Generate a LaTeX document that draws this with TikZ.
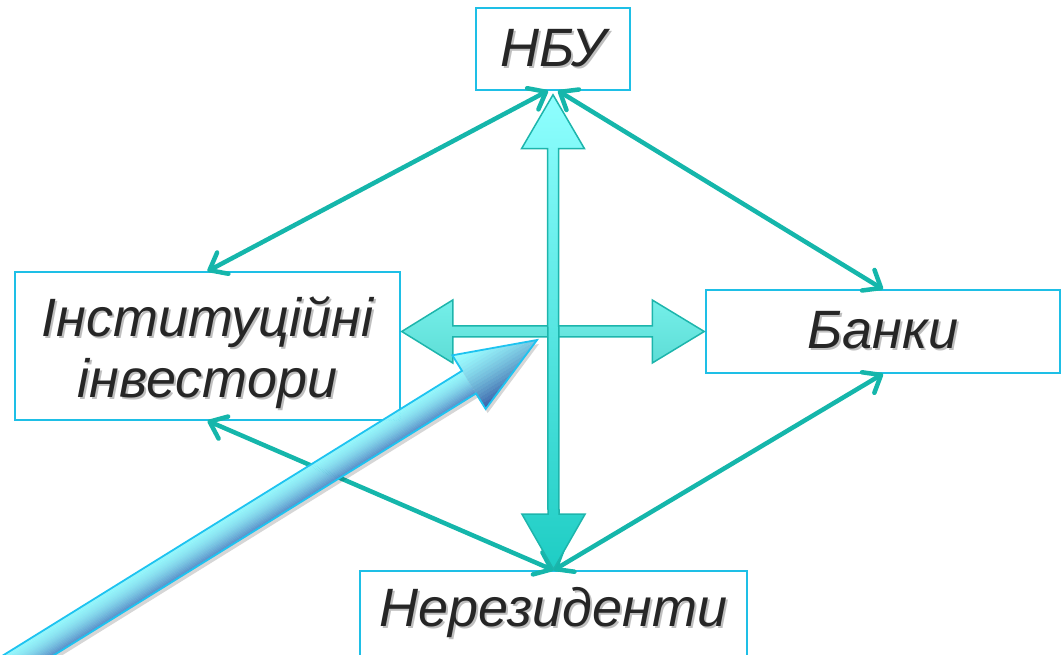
\documentclass[tikz,border=0pt]{standalone}
\usepackage{fontspec}
\setmainfont{Liberation Sans}
\usetikzlibrary{arrows.meta,calc}
\definecolor{boxc}{HTML}{1EBFE6}
\definecolor{thin}{HTML}{15B6AB}
\definecolor{txt}{HTML}{262626}
\definecolor{blkout}{HTML}{1DB5AC}
\definecolor{vtop}{HTML}{8FFFFF}
\definecolor{vbot}{HTML}{1ECDC4}
\definecolor{htop}{HTML}{74EFE9}
\definecolor{hbot}{HTML}{5EDDD6}
\definecolor{dlight}{HTML}{94F6FB}
\definecolor{ddark}{HTML}{5A90CA}
\definecolor{hlight}{HTML}{9CFDFF}
\definecolor{hdark}{HTML}{3A62AA}
\definecolor{dout}{HTML}{1EC3F0}
\newcommand\shd[1]{\leavevmode\rlap{\kern2pt\raisebox{-2pt}{\textcolor{black!25}{#1}}}#1}
\begin{document}
\begin{tikzpicture}[x=1pt,y=1pt,
  box/.style={draw=boxc, line width=1.5pt, fill=white, inner sep=0pt, text=txt,
    font=\fontsize{54}{61}\selectfont\itshape, align=center},
  link/.style={draw=thin, line width=4.5pt, line cap=round,
    {Straight Barb[length=15pt,width=24pt,round]}-{Straight Barb[length=15pt,width=24pt,round]}},
  blk/.style={draw=blkout, line width=1.5pt, line join=miter},
  shadowfill/.style={fill=black, fill opacity=0.18, draw=none},
]
\useasboundingbox (0,0) rectangle (1063,655);
\clip (0,0) rectangle (1063,655);

% boxes
\node[box, minimum width=154, minimum height=82] (nbu) at (553,606) {\shd{НБУ}};
\node[box, minimum width=385, minimum height=148, text height=104pt, text depth=0pt] (inst) at (207.5,309) {\shd{Інституційні}\\\shd{інвестори}};
\node[box, minimum width=354, minimum height=83] (bank) at (883,323.5) {\shd{Банки}};
\node[box, minimum width=387, minimum height=86] (nerez) at (553.5,41) {\shd{Нерезиденти}};

% thin two-way links
\draw[link] ([xshift=-5]nbu.south) -- (inst.north);
\draw[link] ([xshift=5]nbu.south) -- (bank.north);
\draw[link] (inst.south) -- (nerez.north);
\draw[link] (bank.south) -- (nerez.north);

% block arrows
\coordinate (vt) at ([yshift=-4]nbu.south);
\coordinate (vb) at ([yshift=1]nerez.north);
\coordinate (hl) at ([xshift=1]inst.east |- bank.west);
\coordinate (hr) at ([xshift=-1]bank.west);

% horizontal
\path[shadowfill, shift={(2,-3)}] (hl) -- ++(51,31.5) -- ++(0,-26) -- ($(hr)+(-52,5.5)$) -- ++(0,26) -- (hr) -- ++(-52,-31.5) -- ++(0,26) -- ($(hl)+(51,-5.5)$) -- ++(0,-26) -- cycle;
\path[blk, top color=htop, bottom color=hbot] (hl) -- ++(51,31.5) -- ++(0,-26) -- ($(hr)+(-52,5.5)$) -- ++(0,26) -- (hr) -- ++(-52,-31.5) -- ++(0,26) -- ($(hl)+(51,-5.5)$) -- ++(0,-26) -- cycle;
% vertical
\path[shadowfill, shift={(2,-3)}] (vt) -- ++(31.5,-54) -- ++(-26,0) -- ($(vb)+(5.5,55)$) -- ++(26,0) -- (vb) -- ++(-31.5,55) -- ++(26,0) -- ($(vt)+(-5.5,-54)$) -- ++(-26,0) -- cycle;
\path[blk, top color=vtop, bottom color=vbot] (vt) -- ++(31.5,-54) -- ++(-26,0) -- ($(vb)+(5.5,55)$) -- ++(26,0) -- (vb) -- ++(-31.5,55) -- ++(26,0) -- ($(vt)+(-5.5,-54)$) -- ++(-26,0) -- cycle;

% diagonal arrow (gradient across its width, built from strips)
\coordinate (dtip) at (537,315);
\begin{scope}[shift={($(dtip)+(2,-4)$)}, rotate=31.8]
  \fill[black, opacity=0.16] (0,0) -- (-80,31.6) -- (-80,13.3) -- (-700,13.3) -- (-700,-13.3) -- (-80,-13.3) -- (-80,-31.6) -- cycle;
\end{scope}
\begin{scope}[shift={(dtip)}, rotate=31.8]
  \foreach \i in {0,...,19}{
    \pgfmathsetmacro{\p}{100-100*(\i/19)^1.7}
    \fill[dlight!\p!ddark] (-700,{13.3-\i*1.33+0.2}) rectangle (-80,{13.3-(\i+1)*1.33});
  }
  \begin{scope}
    \clip (0,0) -- (-80,31.6) -- (-80,-31.6) -- cycle;
    \foreach \i in {0,...,19}{
      \pgfmathsetmacro{\p}{100-100*(\i/19)^1.5}
      \fill[hlight!\p!hdark] (-81,{31.6-\i*3.16+0.2}) rectangle (1,{31.6-(\i+1)*3.16});
    }
  \end{scope}
  \draw[dout, line width=1.8pt, line join=miter] (0,0) -- (-80,31.6) -- (-80,13.3) -- (-700,13.3) -- (-700,-13.3) -- (-80,-13.3) -- (-80,-31.6) -- cycle;
\end{scope}
\end{tikzpicture}
\end{document}
